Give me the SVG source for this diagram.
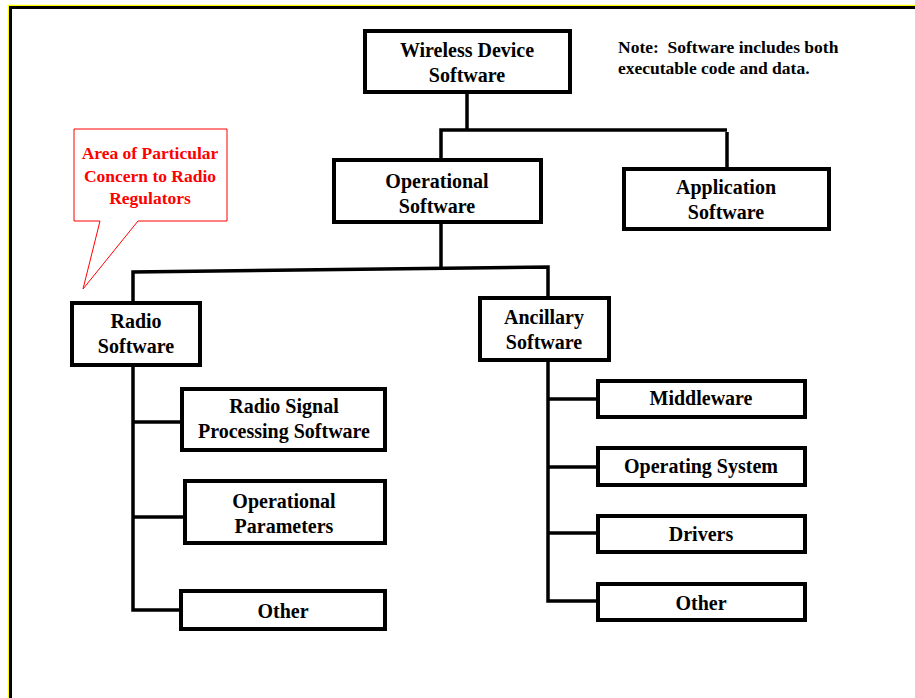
<svg xmlns="http://www.w3.org/2000/svg" width="915" height="698" viewBox="0 0 915 698">
  <style>
    .box { fill: #ffffff; stroke: #000000; stroke-width: 4; }
    .wire { fill: none; stroke: #000000; stroke-width: 3.5; stroke-linejoin: miter; }
    .lbl { font-family: "Liberation Serif", "Times New Roman", serif; font-weight: bold; font-size: 20px; fill: #000000; text-anchor: middle; }
    .note { font-family: "Liberation Serif", "Times New Roman", serif; font-weight: bold; font-size: 17.5px; fill: #000000; }
    .call { font-family: "Liberation Serif", "Times New Roman", serif; font-weight: bold; font-size: 17.5px; fill: #ff0000; text-anchor: middle; }
  </style>

  <rect x="0" y="0" width="915" height="698" fill="#ffffff"/>

  <!-- page frame: yellow hairline outside a black rule -->
  <path d="M8.5 698 V5.5 H915" fill="none" stroke="#ffff00" stroke-width="1.5"/>
  <path d="M10.5 698 V7.5 H915" fill="none" stroke="#000000" stroke-width="3"/>

  <!-- connectors -->
  <g id="connectors">
    <path class="wire" d="M467 92 V130"/>
    <path class="wire" d="M441 160 V130 H727"/>
    <path class="wire" d="M727 132 V169"/>
    <path class="wire" d="M441 222 V268"/>
    <path class="wire" d="M133 303 V272 L548 267 V298"/>
    <path class="wire" d="M133 365 V610 H181"/>
    <path class="wire" d="M133 422 H182"/>
    <path class="wire" d="M133 517 H183"/>
    <path class="wire" d="M548 360 V601 H598"/>
    <path class="wire" d="M548 399 H598"/>
    <path class="wire" d="M548 467 H598"/>
    <path class="wire" d="M548 533 H598"/>
  </g>

  <!-- callout -->
  <g id="callout">
    <polygon points="74,129 227,129 227,221 138,221 83,289 100,221 74,221" fill="#ffffff" stroke="#ff0000" stroke-width="1"/>
    <text class="call" x="150" y="159">Area of Particular</text>
    <text class="call" x="150" y="182">Concern to Radio</text>
    <text class="call" x="150" y="204">Regulators</text>
  </g>

  <!-- note -->
  <g id="note">
    <text class="note" x="618" y="53" xml:space="preserve">Note:  Software includes both</text>
    <text class="note" x="618" y="74">executable code and data.</text>
  </g>

  <g id="wireless-device-software">
    <rect class="box" x="365" y="31" width="205" height="61"/>
    <text class="lbl" x="467" y="57">Wireless Device</text>
    <text class="lbl" x="467" y="82">Software</text>
  </g>

  <g id="operational-software">
    <rect class="box" x="334" y="160" width="207" height="62"/>
    <text class="lbl" x="437" y="188">Operational</text>
    <text class="lbl" x="437" y="213">Software</text>
  </g>

  <g id="application-software">
    <rect class="box" x="624" y="169" width="205" height="60"/>
    <text class="lbl" x="726" y="194">Application</text>
    <text class="lbl" x="726" y="219">Software</text>
  </g>

  <g id="radio-software">
    <rect class="box" x="72" y="303" width="128" height="62"/>
    <text class="lbl" x="136" y="328">Radio</text>
    <text class="lbl" x="136" y="353">Software</text>
  </g>

  <g id="ancillary-software">
    <rect class="box" x="480" y="298" width="129" height="62"/>
    <text class="lbl" x="544" y="324">Ancillary</text>
    <text class="lbl" x="544" y="349">Software</text>
  </g>

  <g id="radio-signal-processing">
    <rect class="box" x="182" y="389" width="203" height="61"/>
    <text class="lbl" x="284" y="413">Radio Signal</text>
    <text class="lbl" x="284" y="438">Processing Software</text>
  </g>

  <g id="operational-parameters">
    <rect class="box" x="185" y="481" width="200" height="62"/>
    <text class="lbl" x="284" y="508">Operational</text>
    <text class="lbl" x="284" y="533">Parameters</text>
  </g>

  <g id="radio-other">
    <rect class="box" x="181" y="591" width="204" height="38"/>
    <text class="lbl" x="283" y="618">Other</text>
  </g>

  <g id="middleware">
    <rect class="box" x="598" y="381" width="207" height="36"/>
    <text class="lbl" x="701" y="405">Middleware</text>
  </g>

  <g id="operating-system">
    <rect class="box" x="598" y="448" width="207" height="37"/>
    <text class="lbl" x="701" y="473">Operating System</text>
  </g>

  <g id="drivers">
    <rect class="box" x="598" y="516" width="207" height="36"/>
    <text class="lbl" x="701" y="541">Drivers</text>
  </g>

  <g id="ancillary-other">
    <rect class="box" x="598" y="584" width="207" height="36"/>
    <text class="lbl" x="701" y="610">Other</text>
  </g>
</svg>
